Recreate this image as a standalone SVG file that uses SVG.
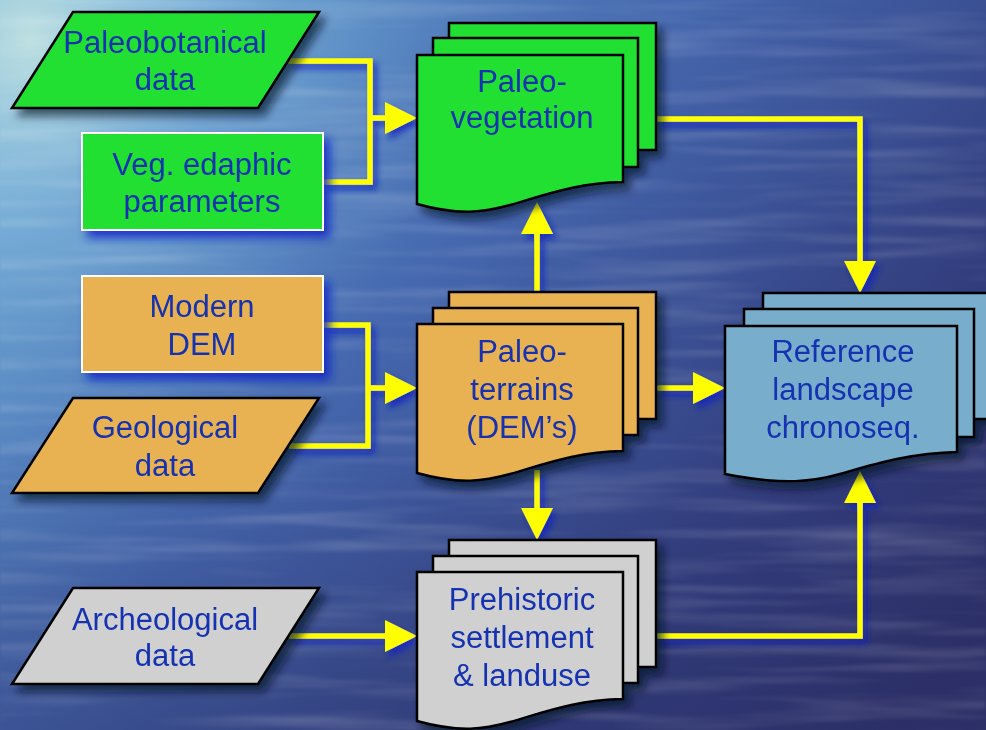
<svg xmlns="http://www.w3.org/2000/svg" xmlns:xlink="http://www.w3.org/1999/xlink" width="986" height="730" viewBox="0 0 986 730">
<style>
.t{font-family:"Liberation Sans",Arial,sans-serif;font-size:31px;fill:#1232B0;text-anchor:middle}
.para{stroke:#000;stroke-width:2.5;stroke-linejoin:miter}
.box{stroke:#fff;stroke-width:2}
.pg{stroke:#000;stroke-width:2.5}
.green{fill:#22E032}
.orange{fill:#E8B252}
.grey{fill:#D0D0D0}
.blue{fill:#78ADCB}
.conn{fill:none;stroke:#FFFF00;stroke-width:5.5;stroke-linejoin:miter}
</style>
<defs>
<linearGradient id="bg" x1="0" y1="0.15" x2="1" y2="0.85">
<stop offset="0" stop-color="#6aa6d4"/>
<stop offset="0.4" stop-color="#4567ae"/>
<stop offset="0.75" stop-color="#333f80"/>
<stop offset="1" stop-color="#2d3068"/>
</linearGradient>
<radialGradient id="hl" cx="30" cy="40" r="420" gradientUnits="userSpaceOnUse">
<stop offset="0" stop-color="#c6e6e2" stop-opacity="0.9"/>
<stop offset="0.45" stop-color="#8cc0e0" stop-opacity="0.45"/>
<stop offset="1" stop-color="#6aa6d4" stop-opacity="0"/>
</radialGradient>
<linearGradient id="bot" x1="0" y1="0" x2="0" y2="1">
<stop offset="0.6" stop-color="#2a2f66" stop-opacity="0"/>
<stop offset="1" stop-color="#2a2f66" stop-opacity="0.35"/>
</linearGradient>
<filter id="water" x="0" y="0" width="100%" height="100%">
<feTurbulence type="fractalNoise" baseFrequency="0.004 0.07" numOctaves="3" seed="7"/>
<feColorMatrix values="0 0 0 0 1 0 0 0 0 1 0 0 0 0 1 0 0 0 2.2 -1.0"/>
<feGaussianBlur stdDeviation="1.5"/>
</filter>
<filter id="sh" x="-20%" y="-20%" width="150%" height="150%">
<feDropShadow dx="6" dy="7" stdDeviation="4" flood-color="#050820" flood-opacity="0.65"/>
</filter>
<filter id="glow" x="-20%" y="-20%" width="150%" height="150%">
<feDropShadow dx="6" dy="7" stdDeviation="5" flood-color="#1028c8" flood-opacity="0.85"/>
</filter>
<filter id="cglow" x="-10%" y="-10%" width="130%" height="130%">
<feDropShadow dx="4" dy="5" stdDeviation="3" flood-color="#0c20c0" flood-opacity="0.8"/>
</filter>
<marker id="ah" viewBox="0 0 32 32" markerWidth="32" markerHeight="32" refX="1" refY="16" orient="auto" markerUnits="userSpaceOnUse">
<path d="M0,0 L32,16 L0,32 Z" fill="#FFFF00"/>
</marker>
<path id="docF" d="M0,0 H206 V127 C158,128 128,140 93,150 C68,157 43,161 0,149 Z"/>
<path id="refF" d="M0,0 H232 V126 C185,127 150,138 115,148 C90,155 60,160 0,148 Z"/>
</defs>

<g id="background">
<rect width="986" height="730" fill="url(#bg)"/>
<rect width="986" height="730" fill="url(#hl)"/>
<rect width="986" height="730" fill="url(#bot)"/>
<rect width="986" height="730" filter="url(#water)" opacity="0.18"/>
</g>

<g id="connectors" filter="url(#cglow)">
<path class="conn" d="M288,61 H370 V182 H323"/>
<path class="conn" d="M370,118 H386" marker-end="url(#ah)"/>
<path class="conn" d="M323,325 H368 V446 H289"/>
<path class="conn" d="M368,388 H386" marker-end="url(#ah)"/>
<path class="conn" d="M289,636 H386" marker-end="url(#ah)"/>
<path class="conn" d="M537,292 V233" marker-end="url(#ah)"/>
<path class="conn" d="M537,470 V509" marker-end="url(#ah)"/>
<path class="conn" d="M656,388 H694" marker-end="url(#ah)"/>
<path class="conn" d="M656,119 H860 V262" marker-end="url(#ah)"/>
<path class="conn" d="M656,636 H860 V502" marker-end="url(#ah)"/>
</g>

<g id="paleobotanical" filter="url(#sh)">
<polygon class="para green" points="73,12 319,12 258,108 12,108"/>
<text class="t" x="165" y="53">Paleobotanical</text>
<text class="t" x="165" y="90">data</text>
</g>

<g id="veg-edaphic" filter="url(#glow)">
<rect class="box green" x="82" y="133" width="241" height="97"/>
<text class="t" x="202" y="175">Veg. edaphic</text>
<text class="t" x="202" y="212">parameters</text>
</g>

<g id="modern-dem" filter="url(#glow)">
<rect class="box orange" x="82" y="276" width="241" height="96"/>
<text class="t" x="202" y="317">Modern</text>
<text class="t" x="202" y="355">DEM</text>
</g>

<g id="geological" filter="url(#sh)">
<polygon class="para orange" points="73,398 319,398 258,493 12,493"/>
<text class="t" x="165" y="438">Geological</text>
<text class="t" x="165" y="476">data</text>
</g>

<g id="archeological" filter="url(#sh)">
<polygon class="para grey" points="73,588 319,588 258,684 12,684"/>
<text class="t" x="165" y="630">Archeological</text>
<text class="t" x="165" y="666">data</text>
</g>

<g id="paleo-vegetation" filter="url(#sh)">
<rect class="pg green" x="449" y="23" width="207" height="127"/>
<rect class="pg green" x="433" y="38" width="205" height="129"/>
<use xlink:href="#docF" class="pg green" x="417" y="55"/>
<text class="t" x="522" y="92">Paleo-</text>
<text class="t" x="522" y="128">vegetation</text>
</g>

<g id="paleo-terrains" filter="url(#sh)">
<rect class="pg orange" x="449" y="292" width="207" height="127"/>
<rect class="pg orange" x="433" y="308" width="205" height="127"/>
<use xlink:href="#docF" class="pg orange" x="417" y="324"/>
<text class="t" x="522" y="362">Paleo-</text>
<text class="t" x="522" y="400">terrains</text>
<text class="t" x="522" y="438">(DEM’s)</text>
</g>

<g id="prehistoric" filter="url(#sh)">
<rect class="pg grey" x="449" y="540" width="207" height="127"/>
<rect class="pg grey" x="433" y="556" width="205" height="127"/>
<use xlink:href="#docF" class="pg grey" x="417" y="572"/>
<text class="t" x="522" y="610">Prehistoric</text>
<text class="t" x="522" y="648">settlement</text>
<text class="t" x="522" y="686">&amp; landuse</text>
</g>

<g id="reference" filter="url(#sh)">
<rect class="pg blue" x="763" y="293" width="226" height="126"/>
<rect class="pg blue" x="744" y="309" width="230" height="128"/>
<use xlink:href="#refF" class="pg blue" x="725" y="326"/>
<text class="t" x="843" y="362">Reference</text>
<text class="t" x="843" y="400">landscape</text>
<text class="t" x="843" y="438">chronoseq.</text>
</g>
</svg>
